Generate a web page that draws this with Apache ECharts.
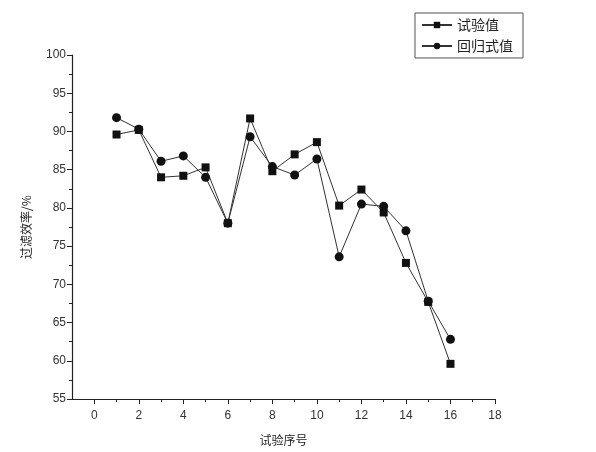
<!DOCTYPE html>
<html>
<head>
<meta charset="utf-8">
<script src="https://cdn.jsdelivr.net/npm/echarts@6/dist/echarts.min.js"></script>
<style>html,body{margin:0;padding:0;background:#fff}#c{width:596px;height:452px}</style>
</head>
<body>
<div id="c"></div>
<script>
const xValues = [1,2,3,4,5,6,7,8,9,10,11,12,13,14,15,16];
const testValues = [89.6,90.2,84.0,84.2,85.3,78.0,91.7,84.8,87.0,88.6,80.3,82.4,79.4,72.8,67.7,59.6];
const regValues = [91.8,90.3,86.1,86.8,84.0,78.0,89.3,85.4,84.3,86.4,73.6,80.5,80.2,77.0,67.8,62.8];
const xLabelTicks = [0,2,4,6,8,10,12,14,16,18];
const xMinorTicks = [1,3,5,7,9,11,13,15,17];
const seriesNames = ['试验值','回归式值'];
const xName = '试验序号';
const yName = '过滤效率/%';

const pair = (vals) => xValues.map((x,i)=>[x, vals[i]]);
const axisColor = '#222';
const tickFont = {fontFamily:'Liberation Sans, Arial, sans-serif', fontSize:12, color:'#333'};
const cjk = '"Noto Sans CJK SC", sans-serif';

const chart = echarts.init(document.getElementById('c'), null, {renderer:'canvas'});
chart.setOption({
  animation:false,
  backgroundColor:'#fff',
  grid:{left:72, right:101, top:55, bottom:53},
  legend:{
    left:415, top:13, orient:'vertical',
    data:seriesNames,
    borderColor:'#555', borderWidth:1, padding:[5,10,5,6],
    itemWidth:30, itemHeight:8, itemGap:7,
    textStyle:{fontFamily:cjk, fontSize:14, color:'#222'}
  },
  xAxis:[{
    type:'value', min:-1, max:18,
    name:xName, nameLocation:'middle', nameGap:35,
    nameTextStyle:{fontFamily:cjk, fontSize:12, color:'#222'},
    axisLine:{onZero:false, lineStyle:{color:axisColor, width:1.2}},
    axisTick:{show:true, customValues:xLabelTicks, length:5, lineStyle:{color:axisColor}},
    axisLabel:Object.assign({customValues:xLabelTicks, margin:11}, tickFont),
    splitLine:{show:false}
  },{
    type:'value', min:-1, max:18, position:'bottom',
    axisLine:{show:false, onZero:false},
    axisTick:{show:true, customValues:xMinorTicks, length:3, lineStyle:{color:axisColor}},
    axisLabel:{show:false},
    splitLine:{show:false}
  }],
  yAxis:{
    type:'value', min:55, max:100, interval:5,
    name:yName, nameLocation:'middle', nameGap:40, nameRotate:90,
    nameTextStyle:{fontFamily:cjk, fontSize:12, color:'#222'},
    axisLine:{show:true, onZero:false, lineStyle:{color:axisColor, width:1.2}},
    axisTick:{show:true, length:5, lineStyle:{color:axisColor}},
    minorTick:{show:true, splitNumber:2, length:3, lineStyle:{color:axisColor}},
    axisLabel:Object.assign({margin:6}, tickFont),
    splitLine:{show:false}
  },
  series:[{
    name:seriesNames[0], type:'line', data:pair(testValues),
    symbol:'rect', symbolSize:8,
    lineStyle:{color:'#333', width:1},
    itemStyle:{color:'#111'}
  },{
    name:seriesNames[1], type:'line', data:pair(regValues),
    symbol:'circle', symbolSize:9,
    lineStyle:{color:'#333', width:1},
    itemStyle:{color:'#111'}
  }]
});
</script>
</body>
</html>
